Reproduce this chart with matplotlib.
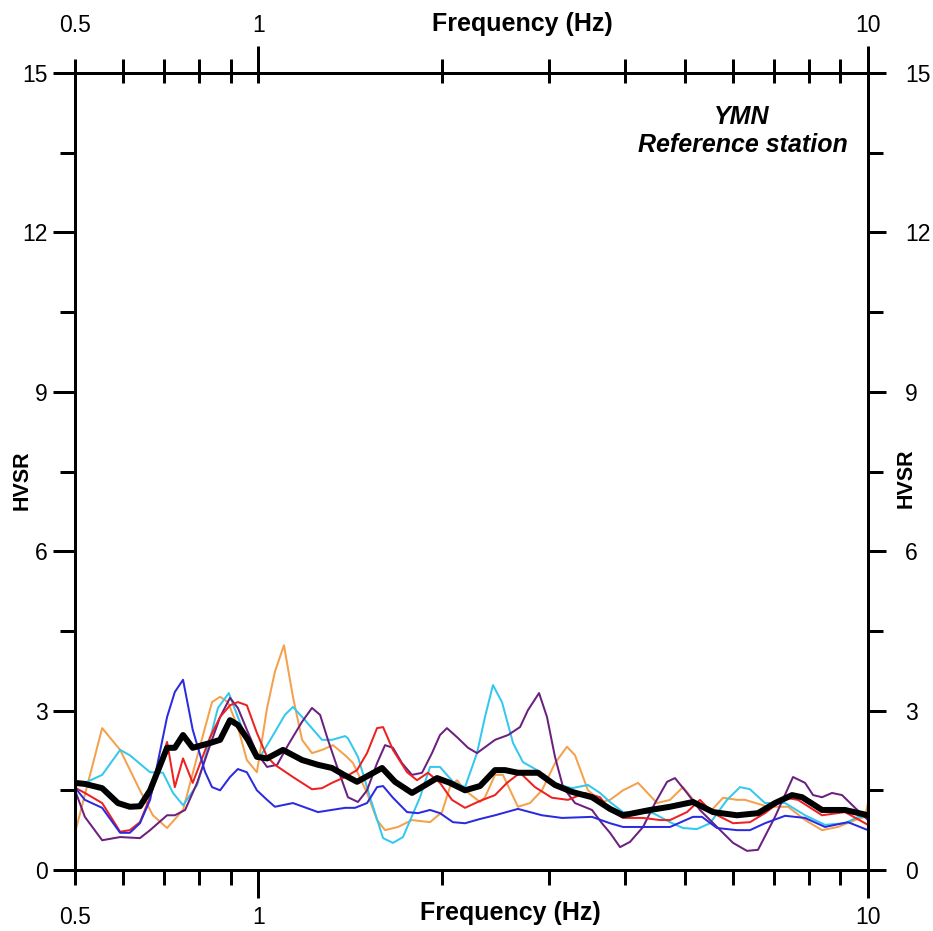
import matplotlib
matplotlib.use('Agg')
import matplotlib.pyplot as plt
from matplotlib.ticker import FixedLocator, FixedFormatter, MultipleLocator

plt.rcParams['font.family'] = ['Liberation Sans', 'DejaVu Sans']

# ---------------- data ----------------
blue_f = [0.5, 0.519, 0.554, 0.593, 0.615, 0.639, 0.664, 0.708, 0.729, 0.752, 0.780, 0.817, 0.839,
          0.865, 0.898, 0.925, 0.957, 0.994, 1.033, 1.064, 1.139, 1.252, 1.387, 1.440, 1.507, 1.565,
          1.601, 1.662, 1.753, 1.827, 1.912, 1.985, 2.085, 2.182, 2.309, 2.444, 2.665, 2.918, 3.148,
          3.525, 3.773, 3.964, 4.734, 5.162, 5.341, 5.653, 6.098, 6.403, 6.776, 7.311, 7.884, 8.502,
          9.273, 10.0]
blue_v = [1.55, 1.32, 1.17, 0.70, 0.70, 0.88, 1.32, 2.88, 3.35, 3.58, 2.64, 1.85, 1.56,
          1.50, 1.75, 1.90, 1.84, 1.50, 1.32, 1.19, 1.26, 1.09, 1.17, 1.17, 1.26, 1.56,
          1.58, 1.36, 1.09, 1.07, 1.13, 1.07, 0.90, 0.88, 0.96, 1.03, 1.15, 1.03, 0.98,
          1.00, 0.88, 0.81, 0.81, 1.00, 1.00, 0.79, 0.75, 0.75, 0.88, 1.02, 0.98, 0.81,
          0.90, 0.75]

red_f = [0.5, 0.519, 0.554, 0.593, 0.615, 0.639, 0.664, 0.708, 0.729, 0.752, 0.780, 0.833, 0.865,
         0.898, 0.925, 0.957, 0.994, 1.033, 1.064, 1.139, 1.224, 1.271, 1.320, 1.387, 1.451, 1.507,
         1.565, 1.601, 1.662, 1.753, 1.820, 1.897, 1.985, 2.077, 2.182, 2.309, 2.444, 2.557, 2.686,
         2.842, 3.030, 3.220, 3.433, 3.633, 3.773, 3.964, 4.275, 4.559, 4.734, 5.047, 5.300, 5.569,
         6.007, 6.403, 6.776, 7.311, 7.678, 8.406, 9.169, 9.890, 10.0]
red_v = [1.55, 1.45, 1.26, 0.72, 0.75, 0.90, 1.37, 2.41, 1.56, 2.10, 1.64, 2.50, 2.88,
         3.10, 3.16, 3.10, 2.58, 2.13, 1.98, 1.75, 1.52, 1.54, 1.64, 1.75, 1.88, 2.20,
         2.67, 2.69, 2.26, 1.84, 1.69, 1.83, 1.64, 1.32, 1.17, 1.30, 1.41, 1.64, 1.83,
         1.56, 1.36, 1.32, 1.45, 1.37, 1.13, 0.98, 0.98, 0.94, 0.94, 1.09, 1.32, 1.07,
         0.88, 0.90, 1.07, 1.36, 1.32, 1.03, 1.09, 0.88, 0.85]

orange_f = [0.5, 0.554, 0.593, 0.639, 0.671, 0.708, 0.752, 0.793, 0.839, 0.865, 0.891, 0.925, 0.957,
            0.994, 1.033, 1.064, 1.101, 1.139, 1.179, 1.224, 1.271, 1.325, 1.387, 1.430, 1.507, 1.565,
            1.613, 1.694, 1.786, 1.912, 2.000, 2.061, 2.117, 2.182, 2.309, 2.353, 2.444, 2.518, 2.665,
            2.789, 2.918, 3.065, 3.207, 3.306, 3.472, 3.660, 3.773, 3.964, 4.195, 4.507, 4.734, 4.971,
            5.300, 5.505, 5.783, 6.098, 6.283, 6.855, 7.393, 7.884, 8.406, 8.928, 9.523, 9.890, 10.0]
orange_v = [0.70, 2.67, 2.26, 1.50, 1.03, 0.79, 1.13, 2.13, 3.16, 3.26, 3.16, 2.69, 2.07,
            1.84, 3.05, 3.73, 4.23, 3.26, 2.45, 2.20, 2.26, 2.35, 2.16, 2.01, 1.45, 0.94,
            0.75, 0.81, 0.94, 0.90, 1.09, 1.56, 1.69, 1.50, 1.28, 1.37, 1.79, 1.79, 1.19,
            1.26, 1.50, 2.01, 2.32, 2.16, 1.50, 1.28, 1.32, 1.50, 1.64, 1.26, 1.32, 1.56,
            1.17, 1.09, 1.36, 1.32, 1.32, 1.19, 1.19, 0.94, 0.75, 0.81, 0.94, 1.00, 1.26]

cyan_f = [0.5, 0.519, 0.554, 0.593, 0.615, 0.664, 0.697, 0.724, 0.752, 0.793, 0.817, 0.858, 0.894,
          0.925, 0.961, 1.006, 1.052, 1.105, 1.139, 1.192, 1.271, 1.320, 1.387, 1.402, 1.456, 1.524,
          1.601, 1.662, 1.726, 1.841, 1.912, 1.985, 2.085, 2.182, 2.283, 2.353, 2.425, 2.509, 2.616,
          2.716, 2.864, 3.030, 3.268, 3.472, 3.633, 3.773, 3.964, 4.440, 4.734, 4.971, 5.239, 5.505,
          5.871, 6.166, 6.403, 6.776, 7.311, 7.884, 8.502, 9.169, 9.632, 10.0]
cyan_v = [1.58, 1.64, 1.79, 2.26, 2.16, 1.84, 1.83, 1.45, 1.22, 1.60, 2.10, 3.05, 3.33,
          2.88, 2.39, 2.13, 2.50, 2.92, 3.07, 2.82, 2.45, 2.45, 2.52, 2.48, 2.13, 1.37,
          0.60, 0.51, 0.62, 1.37, 1.94, 1.94, 1.66, 1.56, 2.20, 2.88, 3.48, 3.16, 2.39,
          2.03, 1.88, 1.64, 1.54, 1.60, 1.45, 1.28, 1.09, 1.07, 0.90, 0.79, 0.77, 0.88,
          1.32, 1.56, 1.52, 1.26, 1.26, 1.03, 0.85, 0.88, 1.00, 1.00]

purple_f = [0.5, 0.519, 0.554, 0.593, 0.639, 0.664, 0.708, 0.729, 0.758, 0.793, 0.833, 0.865, 0.898,
            0.925, 0.957, 0.994, 1.033, 1.073, 1.118, 1.179, 1.224, 1.262, 1.300, 1.346, 1.402, 1.456,
            1.507, 1.565, 1.613, 1.662, 1.720, 1.786, 1.855, 1.926, 1.985, 2.038, 2.117, 2.207, 2.283,
            2.444, 2.567, 2.686, 2.768, 2.886, 2.974, 3.065, 3.160, 3.306, 3.525, 3.660, 3.773, 3.919,
            4.070, 4.275, 4.473, 4.681, 4.823, 5.047, 5.300, 5.653, 6.007, 6.330, 6.600, 7.038, 7.534,
            7.884, 8.126, 8.406, 8.729, 9.066, 9.523, 10.0]
purple_v = [1.50, 1.00, 0.56, 0.62, 0.60, 0.75, 1.03, 1.03, 1.13, 1.64, 2.35, 2.88, 3.24,
            3.05, 2.64, 2.20, 1.94, 1.98, 2.35, 2.79, 3.05, 2.92, 2.45, 1.94, 1.37, 1.28,
            1.50, 2.01, 2.35, 2.30, 2.01, 1.79, 1.83, 2.20, 2.54, 2.67, 2.50, 2.30, 2.20,
            2.45, 2.54, 2.69, 3.01, 3.33, 2.88, 2.13, 1.56, 1.26, 1.13, 0.88, 0.70, 0.43,
            0.53, 0.81, 1.26, 1.66, 1.73, 1.45, 1.13, 0.81, 0.51, 0.36, 0.38, 1.00, 1.75,
            1.64, 1.41, 1.37, 1.45, 1.41, 1.17, 0.94]

mean_f = [0.5, 0.519, 0.554, 0.588, 0.615, 0.639, 0.664, 0.708, 0.729, 0.752, 0.780, 0.833, 0.865,
          0.898, 0.925, 0.961, 0.994, 1.033, 1.097, 1.179, 1.252, 1.320, 1.387, 1.451, 1.595, 1.675,
          1.786, 1.963, 2.061, 2.182, 2.309, 2.444, 2.538, 2.665, 2.875, 3.065, 3.268, 3.525, 3.773,
          3.964, 4.389, 4.734, 5.162, 5.569, 6.098, 6.600, 7.038, 7.506, 7.796, 8.406, 9.169, 10.0]
mean_v = [1.64, 1.62, 1.54, 1.26, 1.19, 1.20, 1.50, 2.30, 2.30, 2.54, 2.30, 2.39, 2.45,
          2.82, 2.73, 2.45, 2.13, 2.10, 2.26, 2.07, 1.98, 1.92, 1.78, 1.66, 1.92, 1.66,
          1.45, 1.73, 1.64, 1.50, 1.58, 1.88, 1.88, 1.83, 1.83, 1.60, 1.47, 1.37, 1.15,
          1.03, 1.13, 1.19, 1.28, 1.09, 1.03, 1.07, 1.26, 1.41, 1.37, 1.13, 1.13, 1.03]

x_major = [1, 10]
x_major_labels = ['1', '10']
x_minor = [0.5, 0.6, 0.7, 0.8, 0.9, 2, 3, 4, 5, 6, 7, 8, 9]
x_minor_labels = ['0.5'] + [''] * 12

# ---------------- drawing ----------------
PX = 72 / 100.0  # points per pixel at dpi 100
TICKFS = 16.5

fig = plt.figure(figsize=(9.33, 9.31), dpi=100)
ax = fig.add_axes([75 / 933, 61 / 931, 793 / 933, 797 / 931])

thin = 2.0 * PX
ax.plot(orange_f, orange_v, color='#f5a04a', lw=thin, zorder=2)
ax.plot(cyan_f, cyan_v, color='#33c8ee', lw=thin, zorder=2)
ax.plot(purple_f, purple_v, color='#6b1f7f', lw=thin, zorder=2)
ax.plot(red_f, red_v, color='#ee2020', lw=thin, zorder=3)
ax.plot(blue_f, blue_v, color='#2a2ae0', lw=thin, zorder=3)
ax.plot(mean_f, mean_v, color='black', lw=6.0 * PX, zorder=4, solid_joinstyle='round')


def setup_x(a):
    a.set_xscale('log')
    a.set_xlim(0.5, 10)
    a.xaxis.set_major_locator(FixedLocator(x_major))
    a.xaxis.set_major_formatter(FixedFormatter(x_major_labels))
    a.xaxis.set_minor_locator(FixedLocator(x_minor))
    a.xaxis.set_minor_formatter(FixedFormatter(x_minor_labels))


def setup_y(a):
    a.set_ylim(0, 15)
    a.yaxis.set_major_locator(MultipleLocator(3))
    a.yaxis.set_minor_locator(MultipleLocator(1.5))


tw = 3.0 * PX
setup_x(ax)
setup_y(ax)
ax.tick_params(axis='x', which='major', direction='out', length=28 * PX, width=tw,
               labelsize=TICKFS, pad=8 * PX, bottom=True, top=False)
ax.tick_params(axis='x', which='minor', direction='out', length=15 * PX, width=tw,
               labelsize=TICKFS, pad=21 * PX, bottom=True, top=False)
ax.tick_params(axis='y', which='major', direction='out', length=22 * PX, width=tw,
               labelsize=TICKFS, pad=5 * PX, left=True, right=False)
ax.tick_params(axis='y', which='minor', direction='out', length=15 * PX, width=tw,
               left=True, right=False)

# top axis (outward ticks with labels)
axt = ax.twiny()
setup_x(axt)
axt.tick_params(axis='x', which='major', direction='out', length=27 * PX, width=tw,
                labelsize=TICKFS, pad=9 * PX, top=True, bottom=False, labeltop=True, labelbottom=False)
axt.tick_params(axis='x', which='minor', direction='out', length=14 * PX, width=tw,
                labelsize=TICKFS, pad=22 * PX, top=True, bottom=False, labeltop=True, labelbottom=False)

# top axis inward tick stubs
axti = ax.twiny()
setup_x(axti)
axti.tick_params(axis='x', which='both', direction='in', length=10 * PX, width=tw,
                 top=True, bottom=False, labeltop=False, labelbottom=False)

# right axis
axr = ax.twinx()
setup_y(axr)
axr.tick_params(axis='y', which='major', direction='out', length=18 * PX, width=tw,
                labelsize=TICKFS, pad=19 * PX, right=True, left=False, labelright=True, labelleft=False)
axr.tick_params(axis='y', which='minor', direction='out', length=15 * PX, width=tw,
                right=True, left=False)
ax.tick_params(axis='y', which='both', right=False)

for a in (ax, axt, axti, axr):
    for s in a.spines.values():
        s.set_linewidth(3.0 * PX)

lab = dict(fontsize=18, fontweight='bold')
fig.text(510 / 933, 1 - 913 / 931, 'Frequency (Hz)', ha='center', va='center', **lab)
fig.text(522 / 933, 1 - 24 / 931, 'Frequency (Hz)', ha='center', va='center', **lab)
fig.text(22 / 933, 1 - 480 / 931, 'HVSR', rotation=90, ha='center', va='center',
         fontsize=15.5, fontweight='bold')
fig.text(906 / 933, 1 - 478 / 931, 'HVSR', rotation=90, ha='center', va='center',
         fontsize=15.5, fontweight='bold')

fig.text(742 / 933, 1 - 117 / 931, 'YMN', ha='center', va='center', fontsize=18,
         fontweight='bold', fontstyle='italic')
fig.text(743 / 933, 1 - 145 / 931, 'Reference station', ha='center', va='center', fontsize=18,
         fontweight='bold', fontstyle='italic')

fig.savefig('out.png', dpi=100)
